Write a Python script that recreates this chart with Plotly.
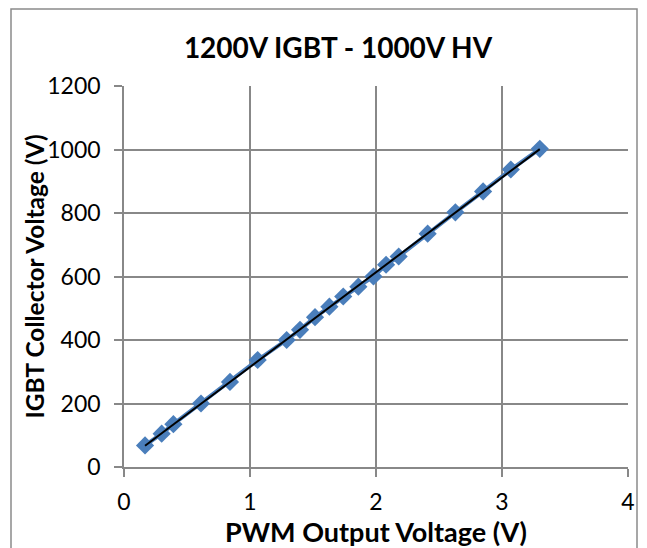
import numpy as np
import plotly.graph_objects as go

# PWM output voltage (V) and IGBT collector voltage (V)
pwm_v = [0.167, 0.299, 0.392, 0.611, 0.841, 1.061, 1.291, 1.397, 1.516, 1.63, 1.74,
         1.86, 1.98, 2.08, 2.18, 2.41, 2.63, 2.85, 3.07, 3.30]
igbt_v = [68, 105, 135, 200, 268, 337, 400, 432, 472, 505, 537,
          568, 600, 637, 663, 735, 802, 868, 937, 1002]

x_ticks = [0, 1, 2, 3, 4]
y_ticks = [0, 200, 400, 600, 800, 1000, 1200]

title = "1200V IGBT - 1000V HV"
x_title = "PWM Output Voltage (V)"
y_title = "IGBT Collector Voltage (V)"

# linear trendline from the data
slope, intercept = np.polyfit(pwm_v, igbt_v, 1)
trend_x = [min(pwm_v), max(pwm_v)]
trend_y = [slope * v + intercept for v in trend_x]

blue = "#4A7EBB"
grid = "#888888"
font = "Lato"

W, H = 647, 548
L, T, PW, PH = 116, 78, 504, 381  # plot area in figure px

fig = go.Figure()
fig.add_trace(go.Scatter(
    x=pwm_v, y=igbt_v, mode="lines+markers",
    line=dict(color=blue, width=4),
    marker=dict(symbol="diamond", size=14, color=blue),
    showlegend=False, hoverinfo="x+y"))
fig.add_trace(go.Scatter(
    x=trend_x, y=trend_y, mode="lines",
    line=dict(color="black", width=2),
    showlegend=False))

fig.update_layout(
    width=W, height=H,
    margin=dict(l=L, r=W - L - PW, t=T, b=H - T - PH),
    paper_bgcolor="white", plot_bgcolor="white",
    font=dict(family=font, size=23, color="black"),
    title=dict(text="<b>" + title + "</b>", x=(330 - L) / PW, xref="paper", xanchor="center",
               y=1 - 40 / H, yanchor="middle",
               font=dict(family=font, size=28, color="black")),
    xaxis=dict(range=[0, 4], tickvals=x_ticks, showgrid=True, gridcolor=grid,
               gridwidth=1.5, showline=True, linecolor=grid, linewidth=1.5,
               ticks="outside", ticklen=8, tickcolor=grid, tickwidth=1.5,
               zeroline=False, tickfont=dict(size=23), ticklabelstandoff=6),
    yaxis=dict(range=[0, 1200], tickvals=y_ticks, showgrid=True, gridcolor=grid,
               gridwidth=1.5, showline=True, linecolor=grid, linewidth=1.5,
               ticks="outside", ticklen=8, tickcolor=grid, tickwidth=1.5,
               zeroline=False, tickfont=dict(size=23), ticklabelstandoff=9),
    annotations=[
        dict(text="<b>" + x_title + "</b>", xref="paper", yref="paper",
             x=0.5, y=-(523 - T - PH) / PH, xanchor="center", yanchor="middle",
             showarrow=False, font=dict(size=27)),
        dict(text="<b>" + y_title + "</b>", xref="paper", yref="paper",
             x=(26 - L) / PW, y=0.5, xanchor="center", yanchor="middle",
             textangle=-90, showarrow=False, font=dict(size=24.5)),
    ],
    shapes=[dict(type="rect", xref="paper", yref="paper",
                 x0=(3 - L) / PW, x1=(629 - L) / PW,
                 y0=-0.4, y1=(T + PH - 1) / PH,
                 line=dict(color="#8A8A8A", width=1.5), layer="below")],
)

fig.write_html("out.html")
